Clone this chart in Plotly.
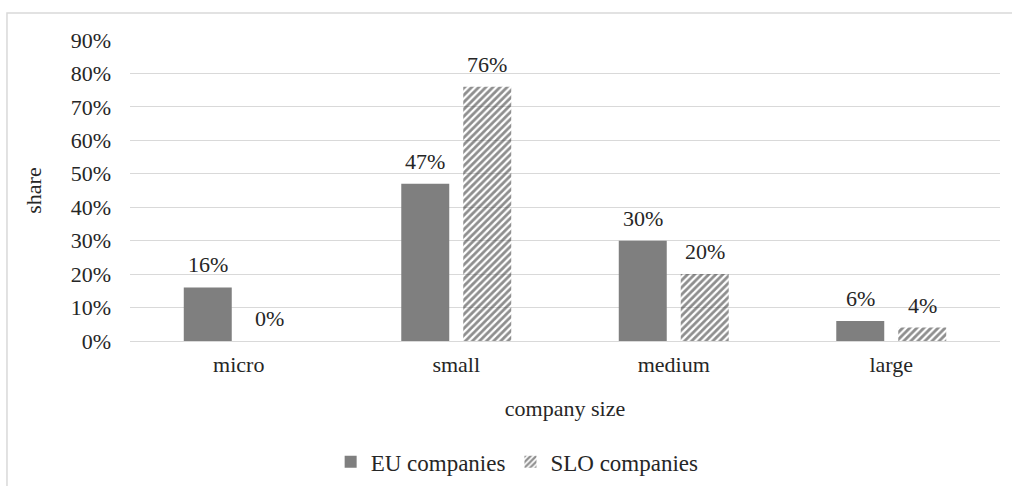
import plotly.graph_objects as go

# Share of companies by size class
categories = ["micro", "small", "medium", "large"]
eu_share = [16, 47, 30, 6]
slo_share = [0, 76, 20, 4]
y_ticks = [0, 10, 20, 30, 40, 50, 60, 70, 80, 90]

font_family = "Liberation Serif, Times New Roman, serif"
text_color = "#262626"
grid_color = "#d9d9d9"
fs = 22

fig = go.Figure()
fig.add_trace(go.Bar(
    name="EU companies",
    x=categories,
    y=[v / 100 for v in eu_share],
    marker=dict(color="#7f7f7f", line=dict(width=0)),
))
fig.add_trace(go.Bar(
    name="SLO companies",
    x=categories,
    y=[v / 100 for v in slo_share],
    marker=dict(
        color="rgba(0,0,0,0)",
        line=dict(width=0),
        pattern=dict(shape="/", fgcolor="#1e1e1e", bgcolor="rgba(0,0,0,0)",
                     size=5, solidity=0.55),
    ),
))

# value labels above each bar (offset to the bar's slot inside the group)
annotations = []
for values, shift in ((eu_share, -31), (slo_share, 31)):
    for cat, v in zip(categories, values):
        annotations.append(dict(
            x=cat, y=v / 100, xref="x", yref="y",
            text=f"{v}%", showarrow=False,
            xanchor="center", yanchor="bottom",
            xshift=shift, yshift=8,
            font=dict(family=font_family, size=fs, color=text_color),
        ))

fig.update_layout(
    width=1012,
    height=486,
    margin=dict(l=130, r=12, t=40, b=145, autoexpand=False),
    paper_bgcolor="white",
    plot_bgcolor="white",
    barmode="group",
    bargap=0.43,
    bargroupgap=0.226,
    font=dict(family=font_family, size=fs, color=text_color),
    showlegend=True,
    legend=dict(
        orientation="h",
        x=0.445, xanchor="center",
        y=-0.33, yanchor="top",
        font=dict(family=font_family, size=23, color=text_color),
        itemwidth=30,
        tracegroupgap=0,
    ),
    xaxis=dict(
        showgrid=False,
        showline=False,
        ticks="",
        automargin=False,
        ticklabelstandoff=8,
        tickfont=dict(family=font_family, size=fs, color=text_color),
        title=dict(text="company size", standoff=24,
                   font=dict(family=font_family, size=fs, color=text_color)),
    ),
    yaxis=dict(
        range=[0, 0.9],
        tickvals=[t / 100 for t in y_ticks],
        ticktext=[f"{t}%" for t in y_ticks],
        showgrid=True,
        gridcolor=grid_color,
        gridwidth=1,
        zeroline=True,
        zerolinecolor=grid_color,
        zerolinewidth=1,
        showline=False,
        ticks="",
        automargin=False,
        ticklabelstandoff=18,
        tickfont=dict(family=font_family, size=fs, color=text_color),
        title=dict(text="share", standoff=22,
                   font=dict(family=font_family, size=fs, color=text_color)),
    ),
    annotations=annotations,
    shapes=[
        dict(type="rect", xref="paper", yref="paper",
             x0=-0.1414, x1=1.05, y0=-0.6, y1=1.0897,
             line=dict(color=grid_color, width=1.5), fillcolor="rgba(0,0,0,0)",
             layer="below"),
    ],
)

fig.write_html("out.html")
